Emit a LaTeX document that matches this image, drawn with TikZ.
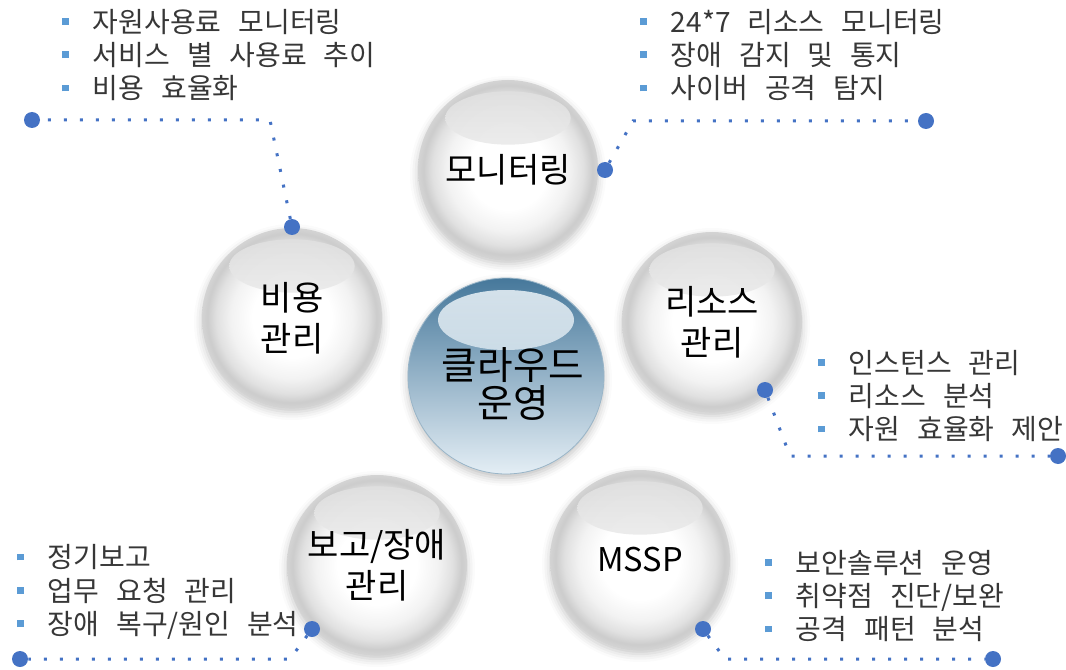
\documentclass[tikz,border=0pt]{standalone}
\usepackage{fontspec}
\setmainfont{Noto Sans CJK KR}
\usetikzlibrary{positioning,shadows.blur}
\definecolor{dotblue}{RGB}{68,114,196}
\definecolor{bulletblue}{RGB}{91,155,213}
\definecolor{txtgray}{RGB}{55,55,55}
\definecolor{ballblue}{RGB}{70,120,155}
\definecolor{ballmid}{RGB}{140,178,202}
\definecolor{balllight}{RGB}{228,238,245}
\pgfdeclareradialshading{glass}{\pgfpoint{0bp}{0bp}}{color(0bp)=(white); color(11bp)=(white); color(17bp)=(gray!10); color(21bp)=(gray!24); color(23.5bp)=(gray!40); color(25bp)=(gray!34); color(50bp)=(gray!34)}
\newcommand{\itm}{\textcolor{bulletblue}{\rule[5.5pt]{5pt}{5pt}}\hspace{18pt}}
\tikzset{
  sphere/.style  = {circle, minimum size=135pt, inner sep=0pt, shading=glass,
                    align=center, font=\fontsize{25.5}{31}\selectfont,
                    blur shadow={shadow xshift=0pt, shadow yshift=-3pt, shadow blur radius=6pt, shadow opacity=22},
                    path picture={\shade[top color=gray!26, bottom color=white, opacity=0.9]
                      ([yshift=39pt]path picture bounding box.center) ellipse [x radius=47pt, y radius=20pt];}},
  core/.style    = {circle, minimum size=147pt, inner sep=0pt, top color=ballblue, middle color=ballmid,
                    bottom color=balllight, draw=ballblue!55, line width=0.6pt,
                    blur shadow={shadow xshift=0pt, shadow yshift=-3pt, shadow blur radius=6pt, shadow opacity=25},
                    path picture={\shade[top color=balllight!60!white, bottom color=ballmid!65!white, opacity=0.85]
                      ([yshift=42pt]path picture bounding box.center) ellipse [x radius=51pt, y radius=22.5pt];}},
  corelabel/.style = {align=center, font=\fontsize{29}{28.5}\selectfont},
  items/.style   = {anchor=west, align=left, inner sep=0pt, text=txtgray,
                    font=\fontsize{21}{25}\selectfont,
                    execute at begin node={\spaceskip=0.6em\relax}},
  enddot/.style  = {circle, fill=dotblue, minimum size=12pt, inner sep=0pt},
  dotline/.style = {dotblue, line width=2.25pt, dash pattern=on 2.25pt off 9.75pt}
}

\begin{document}
\begin{tikzpicture}[x=0.75pt, y=-0.75pt]
\useasboundingbox (0,0) rectangle (1066,670);

% the five outer spheres
\node[sphere] (c1) at (508,170) {모니터링};
\node[sphere] (c2) at (712,322) {리소스\\관리};
\node[sphere, font=\fontsize{24.5}{31}\selectfont] (c3) at (640,560) {MSSP};
\node[sphere] (c4) at (377,565) {보고/장애\\관리};
\node[sphere] (c5) at (292,318) {비용\\관리};

% the centre
\node[core] (c0) at (506,376) {};
\node[corelabel] (c0l) at (513,384) {클라우드\\운영};

% item lists
\node[items] (l1) at (640,55) {\itm 24*7 리소스 모니터링\\\itm 장애 감지 및 통지\\\itm 사이버 공격 탐지};
\node[items] (l2) at (818,396) {\itm 인스턴스 관리\\\itm 리소스 분석\\\itm 자원 효율화 제안};
\node[items] (l3) at (765,596) {\itm 보안솔루션 운영\\\itm 취약점 진단/보완\\\itm 공격 패턴 분석};
\node[items] (l4) at (17,592) {\itm 정기보고\\\itm 업무 요청 관리\\\itm 장애 복구/원인 분석};
\node[items] (l5) at (62,55) {\itm 자원사용료 모니터링\\\itm 서비스 별 사용료 추이\\\itm 비용 효율화};

% dotted leaders
\node[enddot] (d11) at (605,170) {};
\node[enddot] (d12) at (926,121) {};
\coordinate (k1) at (633,121);
\draw[dotline] (d11) -- (k1) -- (d12);

\node[enddot] (d21) at (765,390) {};
\node[enddot] (d22) at (1058,456) {};
\coordinate (k2) at (790,456);
\draw[dotline] (d21) -- (k2) -- (d22);

\node[enddot] (d31) at (703,629) {};
\node[enddot] (d32) at (993,659) {};
\coordinate (k3) at (725,659);
\draw[dotline] (d31) -- (k3) -- (d32);

\node[enddot] (d41) at (312,629) {};
\node[enddot] (d42) at (20,659) {};
\coordinate (k4) at (290,659);
\draw[dotline] (d41) -- (k4) -- (d42);

\node[enddot] (d51) at (292,227) {};
\node[enddot] (d52) at (32,120) {};
\coordinate (k5) at (270,120);
\draw[dotline] (d51) -- (k5) -- (d52);
\end{tikzpicture}
\end{document}
